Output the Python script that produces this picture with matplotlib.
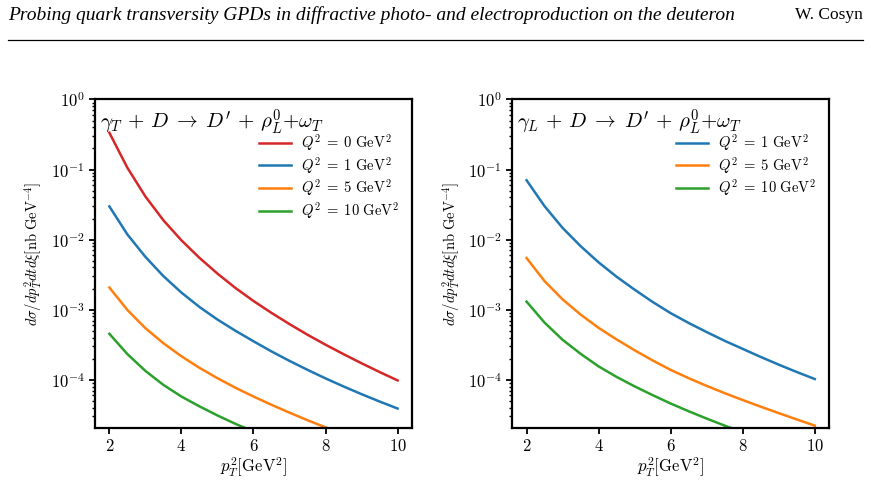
import numpy as np
import matplotlib
matplotlib.use('Agg')
from matplotlib import pyplot as plt

plt.rcParams['mathtext.fontset'] = 'cm'
plt.rcParams['font.family'] = 'serif'
plt.rcParams['font.serif'] = ['cmr10', 'DejaVu Serif']
plt.rcParams['axes.formatter.use_mathtext'] = True

# p_T^2 grid (GeV^2) and log10 of the cross sections
pt2 = [2, 2.5, 3, 3.5, 4, 4.5, 5, 5.5, 6, 6.5, 7, 7.5, 8, 8.5, 9, 9.5, 10]

# gamma_T panel
lt_q0 = [-0.474, -0.974, -1.384, -1.724, -2.01, -2.26, -2.485, -2.69, -2.876,
         -3.046, -3.206, -3.358, -3.5, -3.635, -3.765, -3.89, -4.01]
lt_q1 = [-1.526, -1.926, -2.246, -2.521, -2.756, -2.961, -3.141, -3.301, -3.451,
         -3.596, -3.731, -3.859, -3.981, -4.096, -4.206, -4.311, -4.411]
lt_q5 = [-2.684, -3.004, -3.264, -3.479, -3.665, -3.83, -3.978, -4.115, -4.24,
         -4.358, -4.47, -4.578, -4.68, -4.777, -4.87, -4.96, -5.047]
lt_q10 = [-3.344, -3.634, -3.874, -4.074, -4.24, -4.38, -4.51, -4.63, -4.74,
          -4.845, -4.945, -5.04, -5.13, -5.217, -5.3, -5.38, -5.457]

# gamma_L panel
ll_q1 = [-1.153, -1.523, -1.833, -2.093, -2.325, -2.53, -2.715, -2.89, -3.05,
         -3.19, -3.32, -3.445, -3.56, -3.675, -3.785, -3.89, -3.99]
ll_q5 = [-2.263, -2.593, -2.853, -3.07, -3.26, -3.425, -3.58, -3.725, -3.86,
         -3.978, -4.088, -4.192, -4.29, -4.385, -4.477, -4.567, -4.655]
ll_q10 = [-2.885, -3.185, -3.43, -3.63, -3.81, -3.96, -4.095, -4.22, -4.34,
          -4.45, -4.555, -4.655, -4.75, -4.84, -4.927, -5.011, -5.091]

red = '#d62728'
blue = '#1f77b4'
orange = '#ff7f0e'
green = '#2ca02c'

fig = plt.figure( figsize = ( 8.71 , 4.83 ) , dpi = 100 )

# page header
fig.text( 0.009 , 0.969 , 'Probing quark transversity GPDs in diffractive photo- and electroproduction on the deuteron' ,
          family = 'Liberation Serif' , style = 'italic' , fontsize = 14 , va = 'center' , ha = 'left' )
fig.text( 0.991 , 0.969 , 'W. Cosyn' , family = 'Liberation Serif' , fontsize = 12.5 , va = 'center' , ha = 'right' )
fig.add_artist( plt.Line2D( [ 0.009 , 0.991 ] , [ 0.917 , 0.917 ] , color = 'black' , lw = 0.9 ) )

ax1 = fig.add_axes( [ 0.109 , 0.114 , 0.364 , 0.680 ] )
ax2 = fig.add_axes( [ 0.588 , 0.114 , 0.364 , 0.680 ] )

def lab( q ) :
    return r'$Q^2\;=\;' + q + r'\ \mathrm{GeV}^2$'

x = np.array( pt2 )
ax1.plot( x , 10**np.array( lt_q0 ) , color = red , lw = 1.8 , label = lab( '0' ) )
ax1.plot( x , 10**np.array( lt_q1 ) , color = blue , lw = 1.8 , label = lab( '1' ) )
ax1.plot( x , 10**np.array( lt_q5 ) , color = orange , lw = 1.8 , label = lab( '5' ) )
ax1.plot( x , 10**np.array( lt_q10 ) , color = green , lw = 1.8 , label = lab( '10' ) )

ax2.plot( x , 10**np.array( ll_q1 ) , color = blue , lw = 1.8 , label = lab( '1' ) )
ax2.plot( x , 10**np.array( ll_q5 ) , color = orange , lw = 1.8 , label = lab( '5' ) )
ax2.plot( x , 10**np.array( ll_q10 ) , color = green , lw = 1.8 , label = lab( '10' ) )

titles = [ r"$\gamma_T\,+\,D\;\rightarrow\;D'\,+\,\rho_L^0$+$\omega_T$" ,
           r"$\gamma_L\,+\,D\;\rightarrow\;D'\,+\,\rho_L^0$+$\omega_T$" ]
for ax , t in zip( [ ax1 , ax2 ] , titles ) :
    ax.set_yscale( 'log' )
    ax.set_ylim( 2.05e-5 , 1 )
    ax.set_xlim( 1.6 , 10.4 )
    ax.set_xticks( [ 2 , 4 , 6 , 8 , 10 ] )
    ax.tick_params( labelsize = 12 , width = 1.3 , length = 4 )
    ax.tick_params( which = 'minor' , width = 1 , length = 2.5 )
    for s in ax.spines.values() :
        s.set_linewidth( 1.6 )
    ax.text( 0.015 , 0.975 , t , transform = ax.transAxes , fontsize = 15 , va = 'top' , ha = 'left' )
    ax.legend( loc = 'upper right' , bbox_to_anchor = ( 1.0 , 0.94 ) , frameon = False , fontsize = 10.5 ,
               handlelength = 2.2 , handletextpad = 0.7 , labelspacing = 0.12 )
    ax.set_xlabel( r'$p_T^2[\mathrm{GeV}^2]$' , fontsize = 12 , labelpad = 1 )
    ax.set_ylabel( r'$d\sigma/dp_T^2dtd\xi[\mathrm{nb\ GeV}^{-4}]$' , fontsize = 10.5 )
    ax.yaxis.set_label_coords( -0.156 , 0.53 )

fig.savefig( 'out.png' , dpi = 100 )
